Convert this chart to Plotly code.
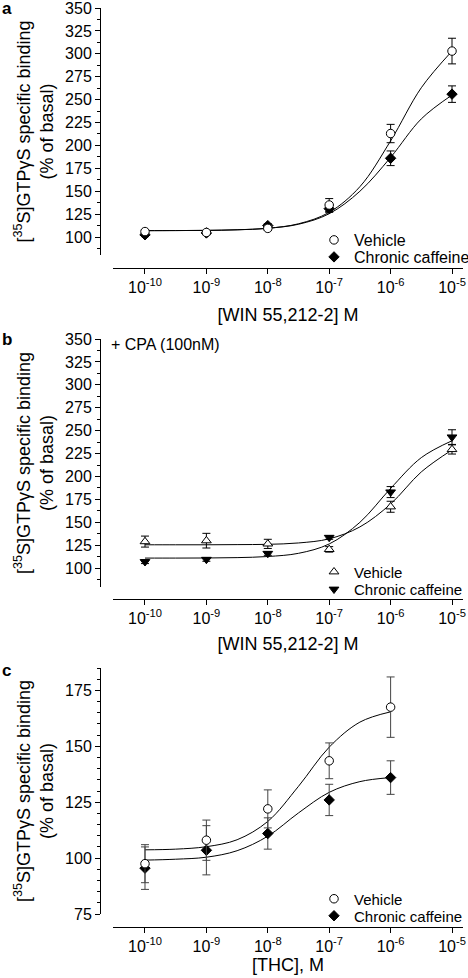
import plotly.graph_objects as go

# ---------------- data ----------------
conc = [1e-10, 1e-9, 1e-8, 1e-7, 1e-6, 1e-5]
conc_thc = [1e-10, 1e-9, 1e-8, 1e-7, 1e-6]

# panel a: WIN 55,212-2
veh_a = [106, 105, 109.5, 135, 213, 303]
veh_a_err = [2, 2, 2, 7, 10, 14]
caf_a = [102.5, 104.5, 112.5, 131, 186, 256]
caf_a_err = [2, 2, 2, 4, 8, 9]

# panel b: WIN 55,212-2 + CPA
veh_b = [129, 130, 126.5, 120.5, 167, 229.5]
veh_b_err = [6, 8, 5, 3, 6, 5]
caf_b = [107, 109.5, 116, 133.5, 183, 243]
caf_b_err = [2, 2, 2, 2, 6, 8]

# panel c: THC
veh_c = [97.5, 108, 122, 143.5, 167.5]
veh_c_err = [8.5, 9, 8.5, 8, 13.5]
caf_c = [95.5, 103.5, 111, 126, 136]
caf_c_err = [9.5, 11, 7, 7, 7.5]

# fitted curves (log10 concentration)
curve_logx = [-10, -9.5, -9, -8.5, -8, -7.5, -7, -6.5, -6, -5.5, -5]
curve_a_veh = [107, 107.1, 107.3, 108, 109.6, 114.5, 127, 155, 205, 263, 303]
curve_a_caf = [107, 107.1, 107.3, 107.9, 109.6, 114, 125.5, 150, 187, 229, 255]
curve_b_veh = [125.5, 125.5, 125.5, 125.7, 126, 127.5, 132, 145, 170, 205, 229]
curve_b_caf = [111, 111, 111.1, 111.5, 112.7, 116.2, 126.4, 150, 187, 220.6, 239]
curve_logx_thc = [-10, -9.5, -9, -8.5, -8, -7.5, -7, -6.5, -6]
curve_c_veh = [103.7, 104, 105.1, 108.2, 116.4, 132.1, 149.6, 160.8, 165.4]
curve_c_caf = [99.1, 99.5, 100.4, 103.3, 109.8, 120.2, 129.4, 134.2, 136]

x_tickvals = [1e-10, 1e-9, 1e-8, 1e-7, 1e-6, 1e-5]
x_ticktext = ["10<sup>-10</sup>", "10<sup>-9</sup>", "10<sup>-8</sup>",
              "10<sup>-7</sup>", "10<sup>-6</sup>", "10<sup>-5</sup>"]

# ---------------- layout helpers ----------------
W, H = 468, 978
FONT = "Liberation Sans, Arial, sans-serif"


def px(x):
    return x / W


def py(y):
    return 1 - y / H


fig = go.Figure()


def curve(logx, vals, xa, ya):
    fig.add_trace(go.Scatter(
        x=[10 ** v for v in logx], y=vals, mode="lines",
        line=dict(color="black", width=1, shape="spline", smoothing=1),
        xaxis=xa, yaxis=ya, showlegend=False, hoverinfo="skip"))


def points(xs, ys, err, xa, ya, symbol, size, fill, name, legend, ecolor="black"):
    fig.add_trace(go.Scatter(
        x=xs, y=ys, mode="markers", name=name,
        error_y=dict(type="data", array=err, visible=True, color=ecolor,
                     thickness=1, width=4),
        marker=dict(symbol=symbol, size=size, color=fill,
                    line=dict(color="black", width=1)),
        xaxis=xa, yaxis=ya, legend=legend, showlegend=True))


# panel a
curve(curve_logx, curve_a_veh, "x", "y")
curve(curve_logx, curve_a_caf, "x", "y")
points(conc, caf_a, caf_a_err, "x", "y", "diamond", 8, "black", "Chronic caffeine", "legend2")
points(conc, veh_a, veh_a_err, "x", "y", "circle", 8.5, "white", "Vehicle", "legend")

# panel b
curve(curve_logx, curve_b_veh, "x2", "y2")
curve(curve_logx, curve_b_caf, "x2", "y2")
points(conc, caf_b, caf_b_err, "x2", "y2", "triangle-down", 8.5, "black", "Chronic caffeine", "legend4")
points(conc, veh_b, veh_b_err, "x2", "y2", "triangle-up", 8.5, "white", "Vehicle", "legend3")

# panel c
curve(curve_logx_thc, curve_c_veh, "x3", "y3")
curve(curve_logx_thc, curve_c_caf, "x3", "y3")
points(conc_thc, caf_c, caf_c_err, "x3", "y3", "diamond", 8, "black", "Chronic caffeine", "legend6", "#444")
points(conc_thc, veh_c, veh_c_err, "x3", "y3", "circle", 8.5, "white", "Vehicle", "legend5", "#444")


def xaxis_def(pos_y, title, standoff):
    return dict(
        domain=[px(113), px(463)], anchor="free", position=py(pos_y),
        type="log", range=[-10.521, -4.821],
        tickvals=x_tickvals, ticktext=x_ticktext,
        ticks="outside", ticklen=5, tickwidth=1, tickcolor="black",
        showline=True, linecolor="black", linewidth=1,
        showgrid=False, zeroline=False, automargin=False,
        ticklabeloverflow="allow",
        tickfont=dict(family=FONT, size=16, color="black"),
        title=dict(text=title, font=dict(family=FONT, size=18, color="black"),
                   standoff=standoff),
    )


def yaxis_def(top, bottom, rng, minor_dtick):
    return dict(
        domain=[py(bottom), py(top)], anchor="free", position=px(100),
        range=rng, tick0=0, dtick=25,
        ticks="outside", ticklen=5, tickwidth=1, tickcolor="black",
        minor=dict(dtick=minor_dtick, tick0=0, ticks="outside", ticklen=3,
                   tickwidth=1, tickcolor="black", showgrid=False),
        showline=True, linecolor="black", linewidth=1,
        showgrid=False, zeroline=False, automargin=False,
        ticklabeloverflow="allow",
        tickfont=dict(family=FONT, size=16, color="black"),
    )


def legend_def(xp, yp, size=16):
    return dict(x=px(xp), y=py(yp), xanchor="left", yanchor="middle",
                bgcolor="rgba(0,0,0,0)", borderwidth=0,
                font=dict(family=FONT, size=size, color="black"),
                itemsizing="trace")


ytitle = "[<sup>35</sup>S]GTPγS specific binding<br>(% of basal)"

annotations = []
for label, ly, cy in [("a", 8, 131.5), ("b", 340, 463), ("c", 670, 791)]:
    annotations.append(dict(
        text="<b>%s</b>" % label, x=px(0), y=py(ly), xref="paper", yref="paper",
        xanchor="left", yanchor="middle", showarrow=False,
        font=dict(family=FONT, size=17, color="black")))
    annotations.append(dict(
        text=ytitle, x=px(34), y=py(cy), xref="paper", yref="paper",
        xanchor="center", yanchor="middle", showarrow=False, textangle=-90,
        font=dict(family=FONT, size=18, color="black")))
annotations.append(dict(
    text="+ CPA (100nM)", x=px(109), y=py(345), xref="paper", yref="paper",
    xanchor="left", yanchor="middle", showarrow=False,
    font=dict(family=FONT, size=16, color="black")))

fig.update_layout(
    width=W, height=H,
    margin=dict(l=0, r=0, t=0, b=0, autoexpand=False),
    paper_bgcolor="white", plot_bgcolor="white",
    font=dict(family=FONT, size=16, color="black"),
    xaxis=xaxis_def(268, "[WIN 55,212-2] M", 13),
    yaxis=yaxis_def(8, 255.4, [80, 350], 12.5),
    xaxis2=xaxis_def(599, "[WIN 55,212-2] M", 11),
    yaxis2=yaxis_def(339, 586.5, [80, 350], 12.5),
    xaxis3=xaxis_def(927, "[THC], M", 2),
    yaxis3=yaxis_def(668, 914, [75, 185], 5),
    legend=legend_def(314, 240),
    legend2=legend_def(314, 257),
    legend3=legend_def(314, 572, 15),
    legend4=legend_def(314, 589.5, 15),
    legend5=legend_def(314, 899, 15),
    legend6=legend_def(314, 916, 15),
    annotations=annotations,
)

# the page's default 8px body margin would offset the figure; remove it
fig.write_html("out.html", config={"displayModeBar": False},
               post_script="document.body.style.margin='0';")
